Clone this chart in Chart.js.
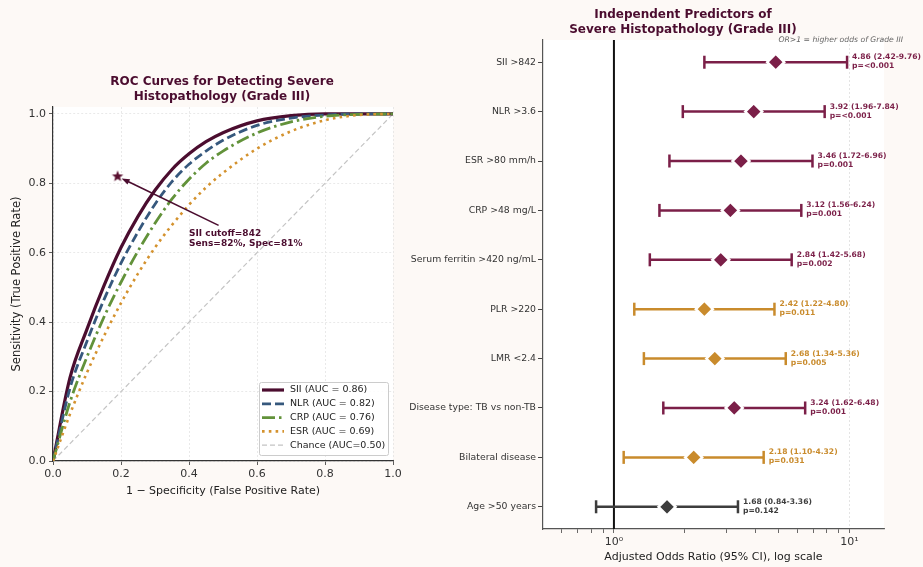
<!DOCTYPE html>
<html>
<head>
<meta charset="utf-8">
<script src="https://cdn.jsdelivr.net/npm/chart.js@4.4.1/dist/chart.umd.min.js"></script>
<style>
  html, body { margin: 0; padding: 0; background: #fdf9f6; }
  #wrap { position: relative; width: 923px; height: 567px; overflow: hidden; background: #fdf9f6; }
  #rocChart { position: absolute; left: 0; top: 0; }
  #forestChart { position: absolute; left: 380px; top: 0; }
</style>
</head>
<body>
<div id="wrap">
  <canvas id="rocChart" width="444" height="567"></canvas>
  <canvas id="forestChart" width="543" height="567"></canvas>
</div>
<script>
// ---- ROC curves ----
const fpr = [0, 0.05, 0.1, 0.15, 0.2, 0.25, 0.3, 0.35, 0.4, 0.45, 0.5, 0.6, 0.7, 0.8, 0.9, 1.0];
const tprSII = [0, 0.24, 0.38, 0.505, 0.615, 0.705, 0.78, 0.84, 0.885, 0.92, 0.946, 0.98, 0.995, 1.0, 1.0, 1.0];
const tprNLR = [0, 0.21, 0.345, 0.465, 0.57, 0.66, 0.74, 0.805, 0.855, 0.893, 0.924, 0.967, 0.988, 0.997, 1.0, 1.0];
const tprCRP = [0, 0.17, 0.30, 0.415, 0.515, 0.605, 0.685, 0.755, 0.812, 0.858, 0.893, 0.945, 0.977, 0.993, 0.999, 1.0];
const tprESR = [0, 0.135, 0.255, 0.36, 0.455, 0.54, 0.615, 0.68, 0.738, 0.788, 0.83, 0.9, 0.95, 0.982, 0.997, 1.0];
const chanceX = [0, 1];
const chanceY = [0, 1];
const rocLabels = ["SII (AUC = 0.86)", "NLR (AUC = 0.82)", "CRP (AUC = 0.76)", "ESR (AUC = 0.69)", "Chance (AUC=0.50)"];
const rocTicks = [0, 0.2, 0.4, 0.6, 0.8, 1.0];
const cutoffPoint = { x: 0.19, y: 0.82 };
const cutoffTextAt = { x: 0.487, y: 0.679 };
const cutoffText = ["SII cutoff=842", "Sens=82%, Spec=81%"];

// ---- Forest plot ----
const predictors = [
  "SII >842", "NLR >3.6", "ESR >80 mm/h", "CRP >48 mg/L", "Serum ferritin >420 ng/mL",
  "PLR >220", "LMR <2.4", "Disease type: TB vs non-TB", "Bilateral disease", "Age >50 years"
];
const oddsRatio = [4.86, 3.92, 3.46, 3.12, 2.84, 2.42, 2.68, 3.24, 2.18, 1.68];
const ciLow = [2.42, 1.96, 1.72, 1.56, 1.42, 1.22, 1.34, 1.62, 1.10, 0.84];
const ciHigh = [9.76, 7.84, 6.96, 6.24, 5.68, 4.80, 5.36, 6.48, 4.32, 3.36];
const pLabels = ["<0.001", "<0.001", "0.001", "0.001", "0.002", "0.011", "0.005", "0.001", "0.031", "0.142"];
const orTicks = [0.6, 0.7, 0.8, 0.9, 1, 2, 3, 4, 5, 6, 7, 8, 9, 10];

const titleColor = "#4b0d2f";
const maroon = "#7b1f48";
const orange = "#c98b2c";
const grey = "#3d3d3d";

Chart.defaults.font.family = "'DejaVu Sans', sans-serif";
Chart.defaults.color = "#333";

function pColor(p) {
  const v = p.startsWith("<") ? 0 : parseFloat(p);
  if (v < 0.005) return maroon;
  if (v < 0.05) return orange;
  return grey;
}

// white plot area (figure colour comes from the page)
const bgPlugin = {
  id: "bg",
  beforeDraw(chart) {
    const { ctx, chartArea: a } = chart;
    ctx.save();
    ctx.fillStyle = "#ffffff";
    ctx.fillRect(a.left, a.top, a.right - a.left, a.bottom - a.top);
    ctx.restore();
  },
};

function drawTitle(ctx, lines, x, y0, step) {
  ctx.save();
  ctx.font = "bold 12px 'DejaVu Sans'";
  ctx.fillStyle = titleColor;
  ctx.textAlign = "center";
  ctx.textBaseline = "middle";
  lines.forEach((t, i) => ctx.fillText(t, x, y0 + i * step));
  ctx.restore();
}

function makeStar(r, color) {
  const c = document.createElement("canvas");
  c.width = c.height = 2 * r + 2;
  const g = c.getContext("2d");
  g.fillStyle = color;
  g.beginPath();
  for (let i = 0; i < 10; i++) {
    const ang = -Math.PI / 2 + (i * Math.PI) / 5;
    const rr = i % 2 === 0 ? r : r * 0.42;
    g.lineTo(r + 1 + rr * Math.cos(ang), r + 1 + rr * Math.sin(ang));
  }
  g.closePath();
  g.fill();
  return c;
}

// ROC extras: title, arrow annotation, legend box
const rocExtras = {
  id: "rocExtras",
  afterDraw(chart) {
    const { ctx, chartArea: a, scales: { x, y } } = chart;
    drawTitle(ctx, ["ROC Curves for Detecting Severe", "Histopathology (Grade III)"], chart.width / 2, 82, 14.4);

    // arrow from text to the cutoff star
    const x0 = x.getPixelForValue(cutoffTextAt.x), y0 = y.getPixelForValue(cutoffTextAt.y);
    const x1 = x.getPixelForValue(cutoffPoint.x) + 4, y1 = y.getPixelForValue(cutoffPoint.y) + 2;
    const ang = Math.atan2(y1 - y0, x1 - x0);
    ctx.save();
    ctx.strokeStyle = titleColor;
    ctx.fillStyle = titleColor;
    ctx.lineWidth = 1.6;
    ctx.beginPath();
    ctx.moveTo(x0, y0);
    ctx.lineTo(x1 - 6 * Math.cos(ang), y1 - 6 * Math.sin(ang));
    ctx.stroke();
    ctx.beginPath();
    ctx.moveTo(x1, y1);
    ctx.lineTo(x1 - 8 * Math.cos(ang) + 3 * Math.sin(ang), y1 - 8 * Math.sin(ang) - 3 * Math.cos(ang));
    ctx.lineTo(x1 - 8 * Math.cos(ang) - 3 * Math.sin(ang), y1 - 8 * Math.sin(ang) + 3 * Math.cos(ang));
    ctx.closePath();
    ctx.fill();
    ctx.font = "bold 9px 'DejaVu Sans'";
    ctx.textBaseline = "middle";
    ctx.fillText(cutoffText[0], x.getPixelForValue(0.40), y0 + 8);
    ctx.fillText(cutoffText[1], x.getPixelForValue(0.40), y0 + 18);
    ctx.restore();

    // legend box (lower right, inside axes)
    const items = chart.data.datasets.filter((d) => d.inLegend);
    const bw = 129, rowH = 13.8;
    const bh = items.length * rowH + 4;
    const bx = a.right - bw - 5, by = a.bottom - bh - 6;
    ctx.save();
    ctx.fillStyle = "rgba(255,255,255,0.85)";
    ctx.strokeStyle = "#cccccc";
    ctx.lineWidth = 1;
    ctx.beginPath();
    ctx.roundRect(bx + 0.5, by + 0.5, bw, bh, 2);
    ctx.fill();
    ctx.stroke();
    ctx.font = "9.5px 'DejaVu Sans'";
    ctx.textBaseline = "middle";
    items.forEach((d, i) => {
      const yy = by + 8 + i * rowH;
      ctx.strokeStyle = d.borderColor;
      ctx.lineWidth = d.borderWidth;
      ctx.setLineDash(d.borderDash || []);
      ctx.lineCap = "butt";
      ctx.beginPath();
      ctx.moveTo(bx + 3, yy);
      ctx.lineTo(bx + 25, yy);
      ctx.stroke();
      ctx.setLineDash([]);
      ctx.fillStyle = "#222";
      ctx.fillText(d.label, bx + 31, yy);
    });
    ctx.restore();
  },
};

const toXY = (xs, ys) => xs.map((v, i) => ({ x: v, y: ys[i] }));

const rocCurve = (label, ys, color, width, dash, order) => ({
  label: label,
  data: toXY(fpr, ys),
  borderColor: color,
  borderWidth: width,
  borderDash: dash,
  pointRadius: 0,
  cubicInterpolationMode: "monotone",
  fill: false,
  order: order,
  inLegend: true,
});

new Chart(document.getElementById("rocChart"), {
  type: "line",
  data: {
    datasets: [
      rocCurve(rocLabels[0], tprSII, "#4b0d2f", 3.2, [], 4),
      rocCurve(rocLabels[1], tprNLR, "#36587d", 2.8, [9, 4], 3),
      rocCurve(rocLabels[2], tprCRP, "#62923a", 2.8, [13, 4, 2.5, 4], 2),
      rocCurve(rocLabels[3], tprESR, "#d4922e", 2.6, [2.6, 4.2], 1),
      {
        label: rocLabels[4],
        data: toXY(chanceX, chanceY),
        borderColor: "#c4c4c4",
        borderWidth: 1.2,
        borderDash: [5, 3],
        pointRadius: 0,
        order: 5,
        inLegend: true,
      },
      {
        label: "cutoff",
        type: "scatter",
        data: [cutoffPoint],
        pointStyle: makeStar(6, "#5a1030"),
        pointRadius: 6,
        order: 0,
      },
    ],
  },
  options: {
    responsive: false,
    animation: false,
    layout: { padding: { left: 0, top: 107, right: 51, bottom: 66 } },
    plugins: { legend: { display: false }, tooltip: { enabled: false } },
    scales: {
      x: {
        type: "linear",
        min: 0,
        max: 1,
        afterBuildTicks: (s) => { s.ticks = rocTicks.map((v) => ({ value: v })); },
        afterFit: (s) => { s.height = 40; },
        ticks: { font: { size: 11 }, color: "#333", padding: 3, maxRotation: 0, callback: (v) => v.toFixed(1) },
        grid: { color: "#e4e4e4", lineWidth: 0.8, tickLength: 4, tickColor: "#333", tickBorderDash: [] },
        border: { color: "#333", width: 1.2, dash: [2, 2] },
        title: { display: true, text: "1 − Specificity (False Positive Rate)", font: { size: 11 }, color: "#222", padding: { top: 0, bottom: 3 } },
      },
      y: {
        type: "linear",
        min: 0,
        max: 1.02,
        afterBuildTicks: (s) => { s.ticks = rocTicks.map((v) => ({ value: v })); },
        afterFit: (s) => { s.width = 53; },
        ticks: { font: { size: 11 }, color: "#333", padding: 3, callback: (v) => v.toFixed(1) },
        grid: { color: "#e4e4e4", lineWidth: 0.8, tickLength: 4, tickColor: "#333", tickBorderDash: [] },
        border: { color: "#333", width: 1.2, dash: [2, 2] },
        title: { display: true, text: "Sensitivity (True Positive Rate)", font: { size: 11.5 }, color: "#222", padding: { top: 10, bottom: 0 } },
      },
    },
  },
  plugins: [bgPlugin, rocExtras],
});

// Forest extras: title, note, OR text labels
const forestExtras = {
  id: "forestExtras",
  afterDraw(chart) {
    const { ctx, scales: { x, y } } = chart;
    drawTitle(ctx, ["Independent Predictors of", "Severe Histopathology (Grade III)"], 303, 15, 14.4);
    ctx.save();
    ctx.font = "italic 7.7px 'DejaVu Sans'";
    ctx.fillStyle = "#666";
    ctx.textAlign = "right";
    ctx.textBaseline = "middle";
    ctx.fillText("OR>1 = higher odds of Grade III", 523, 40);
    ctx.textAlign = "left";
    ctx.font = "bold 7.6px 'DejaVu Sans'";
    predictors.forEach((_, i) => {
      const px = x.getPixelForValue(ciHigh[i]) + 5;
      const py = y.getPixelForValue(i);
      ctx.fillStyle = pColor(pLabels[i]);
      ctx.fillText(`${oddsRatio[i].toFixed(2)} (${ciLow[i].toFixed(2)}-${ciHigh[i].toFixed(2)})`, px, py - 5);
      ctx.fillText(`p=${pLabels[i]}`, px, py + 4);
    });
    ctx.restore();
  },
};

const ciDatasets = predictors.map((name, i) => ({
  label: name,
  type: "line",
  data: [{ x: ciLow[i], y: i }, { x: ciHigh[i], y: i }],
  borderColor: pColor(pLabels[i]),
  borderWidth: 2.5,
  pointStyle: "line",
  pointRotation: 90,
  pointRadius: 6.5,
  pointBorderWidth: 2.5,
  pointBorderColor: pColor(pLabels[i]),
  order: 1,
}));

new Chart(document.getElementById("forestChart"), {
  type: "scatter",
  data: {
    datasets: [
      {
        label: "OR",
        data: oddsRatio.map((v, i) => ({ x: v, y: i })),
        pointStyle: "rectRot",
        pointRadius: 8.5,
        pointBackgroundColor: pLabels.map(pColor),
        pointBorderColor: "#ffffff",
        pointBorderWidth: 2.5,
        order: 0,
      },
      ...ciDatasets,
      {
        label: "OR = 1",
        type: "line",
        data: [{ x: 1, y: -0.45 }, { x: 1, y: 9.45 }],
        borderColor: "#111",
        borderWidth: 2,
        pointRadius: 0,
        order: 2,
      },
    ],
  },
  options: {
    responsive: false,
    animation: false,
    layout: { padding: { left: 0, top: 40, right: 39, bottom: 2 } },
    plugins: { legend: { display: false }, tooltip: { enabled: false } },
    scales: {
      x: {
        type: "logarithmic",
        min: 0.5,
        max: 14,
        afterBuildTicks: (s) => { s.ticks = orTicks.map((v) => ({ value: v })); },
        afterFit: (s) => { s.height = 36; },
        ticks: {
          autoSkip: false,
          maxRotation: 0,
          padding: 3,
          font: { size: 11 },
          color: "#333",
          callback: (v) => (v === 1 ? "10⁰" : v === 10 ? "10¹" : ""),
        },
        grid: {
          color: (c) => (c.tick && c.tick.value === 10 ? "#dddddd" : "rgba(0,0,0,0)"),
          lineWidth: 0.8,
          tickLength: 4,
          tickColor: "#444",
          tickBorderDash: [],
        },
        border: { color: "#555", width: 1.2, dash: [2, 2] },
        title: { display: true, text: "Adjusted Odds Ratio (95% CI), log scale", font: { size: 11 }, color: "#222", padding: { top: 0, bottom: 1.5 } },
      },
      y: {
        type: "linear",
        reverse: true,
        min: -0.45,
        max: 9.45,
        afterBuildTicks: (s) => { s.ticks = predictors.map((_, i) => ({ value: i })); },
        afterFit: (s) => { s.width = 163; },
        ticks: { font: { size: 9.3 }, color: "#333", padding: 2, autoSkip: false, callback: (v) => predictors[v] },
        grid: { drawOnChartArea: false, tickLength: 5, tickColor: "#444" },
        border: { color: "#555", width: 1.2 },
      },
    },
  },
  plugins: [bgPlugin, forestExtras],
});
</script>
</body>
</html>
